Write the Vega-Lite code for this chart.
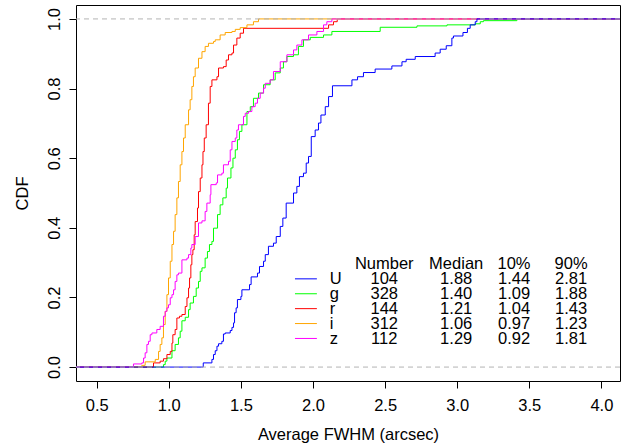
{
  "$schema": "https://vega.github.io/schema/vega-lite/v6.json",
  "autosize": "none",
  "width": 544,
  "height": 376,
  "padding": {"left": 76, "top": 5, "right": 6, "bottom": 67},
  "background": "white",
  "config": {
    "view": {"stroke": "black", "strokeWidth": 1},
    "font": "Liberation Sans",
    "text": {"fontSize": 16.5, "font": "Liberation Sans", "color": "black", "baseline": "alphabetic", "align": "center"},
    "axis": {
      "labelFont": "Liberation Sans",
      "titleFont": "Liberation Sans",
      "labelFontSize": 16.5,
      "titleFontSize": 16.5,
      "titleFontWeight": "normal",
      "labelColor": "black",
      "titleColor": "black",
      "tickColor": "black",
      "tickSize": 7,
      "domain": false,
      "grid": false,
      "labelFlush": false,
      "labelOverlap": false
    }
  },
  "datasets": {
    "curves": [
      {"band":"g","x":0.3565,"y":0},{"band":"g","x":0.963,"y":0.007},{"band":"g","x":0.975,"y":0.017},{"band":"g","x":0.987,"y":0.026},{"band":"g","x":1.022,"y":0.047},{"band":"g","x":1.044,"y":0.065},{"band":"g","x":1.067,"y":0.084},{"band":"g","x":1.079,"y":0.103},{"band":"g","x":1.091,"y":0.133},{"band":"g","x":1.114,"y":0.143},{"band":"g","x":1.137,"y":0.165},{"band":"g","x":1.148,"y":0.184},{"band":"g","x":1.171,"y":0.203},{"band":"g","x":1.19,"y":0.227},{"band":"g","x":1.206,"y":0.246},{"band":"g","x":1.218,"y":0.275},{"band":"g","x":1.23,"y":0.285},{"band":"g","x":1.252,"y":0.313},{"band":"g","x":1.268,"y":0.332},{"band":"g","x":1.282,"y":0.352},{"band":"g","x":1.299,"y":0.361},{"band":"g","x":1.31,"y":0.399},{"band":"g","x":1.338,"y":0.438},{"band":"g","x":1.356,"y":0.466},{"band":"g","x":1.375,"y":0.486},{"band":"g","x":1.398,"y":0.514},{"band":"g","x":1.407,"y":0.543},{"band":"g","x":1.431,"y":0.572},{"band":"g","x":1.445,"y":0.6},{"band":"g","x":1.461,"y":0.624},{"band":"g","x":1.476,"y":0.653},{"band":"g","x":1.49,"y":0.677},{"band":"g","x":1.507,"y":0.696},{"band":"g","x":1.542,"y":0.734},{"band":"g","x":1.565,"y":0.748},{"band":"g","x":1.587,"y":0.772},{"band":"g","x":1.622,"y":0.787},{"band":"g","x":1.657,"y":0.811},{"band":"g","x":1.703,"y":0.825},{"band":"g","x":1.738,"y":0.845},{"band":"g","x":1.773,"y":0.859},{"band":"g","x":1.795,"y":0.877},{"band":"g","x":1.819,"y":0.892},{"band":"g","x":1.865,"y":0.897},{"band":"g","x":1.899,"y":0.921},{"band":"g","x":1.934,"y":0.94},{"band":"g","x":1.981,"y":0.947},{"band":"g","x":2.073,"y":0.954},{"band":"g","x":2.131,"y":0.964},{"band":"g","x":2.466,"y":0.976},{"band":"g","x":2.721,"y":0.98},{"band":"g","x":2.929,"y":0.983},{"band":"g","x":3.125,"y":0.986},{"band":"g","x":3.16,"y":0.992},{"band":"g","x":3.182,"y":0.995},{"band":"g","x":3.414,"y":1.0},{"band":"g","x":4.129,"y":1.0},
      {"band":"r","x":0.3565,"y":0},{"band":"r","x":0.894,"y":0.012},{"band":"r","x":0.94,"y":0.017},{"band":"r","x":0.963,"y":0.024},{"band":"r","x":0.987,"y":0.036},{"band":"r","x":1.01,"y":0.045},{"band":"r","x":1.022,"y":0.069},{"band":"r","x":1.028,"y":0.093},{"band":"r","x":1.044,"y":0.108},{"band":"r","x":1.056,"y":0.141},{"band":"r","x":1.074,"y":0.146},{"band":"r","x":1.091,"y":0.151},{"band":"r","x":1.114,"y":0.174},{"band":"r","x":1.126,"y":0.199},{"band":"r","x":1.137,"y":0.227},{"band":"r","x":1.144,"y":0.256},{"band":"r","x":1.153,"y":0.294},{"band":"r","x":1.16,"y":0.323},{"band":"r","x":1.167,"y":0.337},{"band":"r","x":1.176,"y":0.38},{"band":"r","x":1.183,"y":0.418},{"band":"r","x":1.199,"y":0.457},{"band":"r","x":1.206,"y":0.504},{"band":"r","x":1.218,"y":0.543},{"band":"r","x":1.23,"y":0.581},{"band":"r","x":1.237,"y":0.619},{"band":"r","x":1.246,"y":0.658},{"band":"r","x":1.259,"y":0.696},{"band":"r","x":1.275,"y":0.758},{"band":"r","x":1.287,"y":0.806},{"band":"r","x":1.299,"y":0.825},{"band":"r","x":1.334,"y":0.834},{"band":"r","x":1.345,"y":0.859},{"band":"r","x":1.379,"y":0.863},{"band":"r","x":1.398,"y":0.882},{"band":"r","x":1.414,"y":0.897},{"band":"r","x":1.438,"y":0.902},{"band":"r","x":1.449,"y":0.925},{"band":"r","x":1.472,"y":0.945},{"band":"r","x":1.495,"y":0.959},{"band":"r","x":1.518,"y":0.973},{"band":"r","x":2.108,"y":0.983},{"band":"r","x":2.142,"y":0.992},{"band":"r","x":2.168,"y":1.0},{"band":"r","x":4.129,"y":1.0},
      {"band":"i","x":0.3565,"y":0},{"band":"i","x":0.813,"y":0.005},{"band":"i","x":0.836,"y":0.015},{"band":"i","x":0.906,"y":0.022},{"band":"i","x":0.929,"y":0.045},{"band":"i","x":0.94,"y":0.065},{"band":"i","x":0.952,"y":0.084},{"band":"i","x":0.963,"y":0.122},{"band":"i","x":0.975,"y":0.16},{"band":"i","x":0.987,"y":0.208},{"band":"i","x":0.998,"y":0.256},{"band":"i","x":1.01,"y":0.304},{"band":"i","x":1.022,"y":0.352},{"band":"i","x":1.033,"y":0.39},{"band":"i","x":1.044,"y":0.438},{"band":"i","x":1.056,"y":0.486},{"band":"i","x":1.067,"y":0.533},{"band":"i","x":1.079,"y":0.581},{"band":"i","x":1.091,"y":0.619},{"band":"i","x":1.102,"y":0.658},{"band":"i","x":1.114,"y":0.696},{"band":"i","x":1.137,"y":0.739},{"band":"i","x":1.148,"y":0.768},{"band":"i","x":1.16,"y":0.806},{"band":"i","x":1.171,"y":0.834},{"band":"i","x":1.183,"y":0.859},{"band":"i","x":1.206,"y":0.887},{"band":"i","x":1.23,"y":0.906},{"band":"i","x":1.252,"y":0.921},{"band":"i","x":1.275,"y":0.93},{"band":"i","x":1.31,"y":0.935},{"band":"i","x":1.322,"y":0.94},{"band":"i","x":1.356,"y":0.954},{"band":"i","x":1.391,"y":0.961},{"band":"i","x":1.438,"y":0.964},{"band":"i","x":1.461,"y":0.97},{"band":"i","x":1.495,"y":0.975},{"band":"i","x":1.542,"y":0.983},{"band":"i","x":1.587,"y":0.992},{"band":"i","x":1.622,"y":1.0},{"band":"i","x":4.129,"y":1.0},
      {"band":"z","x":0.3565,"y":0},{"band":"z","x":0.755,"y":0.009},{"band":"z","x":0.813,"y":0.012},{"band":"z","x":0.825,"y":0.026},{"band":"z","x":0.836,"y":0.041},{"band":"z","x":0.848,"y":0.065},{"band":"z","x":0.859,"y":0.074},{"band":"z","x":0.871,"y":0.093},{"band":"z","x":0.883,"y":0.098},{"band":"z","x":0.917,"y":0.108},{"band":"z","x":0.94,"y":0.117},{"band":"z","x":0.963,"y":0.146},{"band":"z","x":0.975,"y":0.16},{"band":"z","x":0.987,"y":0.17},{"band":"z","x":0.998,"y":0.179},{"band":"z","x":1.01,"y":0.199},{"band":"z","x":1.022,"y":0.208},{"band":"z","x":1.033,"y":0.222},{"band":"z","x":1.044,"y":0.246},{"band":"z","x":1.056,"y":0.265},{"band":"z","x":1.067,"y":0.27},{"band":"z","x":1.091,"y":0.308},{"band":"z","x":1.126,"y":0.313},{"band":"z","x":1.137,"y":0.323},{"band":"z","x":1.153,"y":0.342},{"band":"z","x":1.16,"y":0.352},{"band":"z","x":1.183,"y":0.375},{"band":"z","x":1.206,"y":0.414},{"band":"z","x":1.23,"y":0.42},{"band":"z","x":1.252,"y":0.447},{"band":"z","x":1.264,"y":0.471},{"band":"z","x":1.287,"y":0.495},{"band":"z","x":1.292,"y":0.524},{"band":"z","x":1.329,"y":0.529},{"band":"z","x":1.338,"y":0.552},{"band":"z","x":1.368,"y":0.557},{"band":"z","x":1.379,"y":0.581},{"band":"z","x":1.414,"y":0.591},{"band":"z","x":1.426,"y":0.624},{"band":"z","x":1.438,"y":0.648},{"band":"z","x":1.461,"y":0.658},{"band":"z","x":1.472,"y":0.681},{"band":"z","x":1.483,"y":0.696},{"band":"z","x":1.518,"y":0.72},{"band":"z","x":1.53,"y":0.729},{"band":"z","x":1.553,"y":0.734},{"band":"z","x":1.576,"y":0.748},{"band":"z","x":1.599,"y":0.758},{"band":"z","x":1.615,"y":0.772},{"band":"z","x":1.634,"y":0.787},{"band":"z","x":1.657,"y":0.801},{"band":"z","x":1.669,"y":0.815},{"band":"z","x":1.703,"y":0.825},{"band":"z","x":1.726,"y":0.849},{"band":"z","x":1.773,"y":0.877},{"band":"z","x":1.819,"y":0.897},{"band":"z","x":1.865,"y":0.911},{"band":"z","x":1.888,"y":0.925},{"band":"z","x":1.923,"y":0.94},{"band":"z","x":1.969,"y":0.954},{"band":"z","x":2.027,"y":0.964},{"band":"z","x":2.073,"y":0.983},{"band":"z","x":2.096,"y":0.992},{"band":"z","x":2.131,"y":1.0},{"band":"z","x":4.129,"y":1.0},
      {"band":"U","x":0.3565,"y":0},{"band":"U","x":1.239,"y":0.012},{"band":"U","x":1.299,"y":0.022},{"band":"U","x":1.31,"y":0.036},{"band":"U","x":1.322,"y":0.047},{"band":"U","x":1.334,"y":0.06},{"band":"U","x":1.345,"y":0.067},{"band":"U","x":1.368,"y":0.074},{"band":"U","x":1.379,"y":0.095},{"band":"U","x":1.391,"y":0.098},{"band":"U","x":1.426,"y":0.105},{"band":"U","x":1.438,"y":0.114},{"band":"U","x":1.449,"y":0.127},{"band":"U","x":1.456,"y":0.156},{"band":"U","x":1.467,"y":0.17},{"band":"U","x":1.476,"y":0.194},{"band":"U","x":1.5,"y":0.203},{"band":"U","x":1.507,"y":0.222},{"band":"U","x":1.56,"y":0.237},{"band":"U","x":1.571,"y":0.259},{"band":"U","x":1.615,"y":0.27},{"band":"U","x":1.629,"y":0.289},{"band":"U","x":1.657,"y":0.304},{"band":"U","x":1.669,"y":0.323},{"band":"U","x":1.691,"y":0.347},{"band":"U","x":1.726,"y":0.356},{"band":"U","x":1.745,"y":0.375},{"band":"U","x":1.773,"y":0.404},{"band":"U","x":1.791,"y":0.428},{"band":"U","x":1.814,"y":0.471},{"band":"U","x":1.865,"y":0.5},{"band":"U","x":1.888,"y":0.519},{"band":"U","x":1.906,"y":0.547},{"band":"U","x":1.934,"y":0.557},{"band":"U","x":1.953,"y":0.586},{"band":"U","x":1.969,"y":0.605},{"band":"U","x":1.988,"y":0.662},{"band":"U","x":2.015,"y":0.681},{"band":"U","x":2.038,"y":0.701},{"band":"U","x":2.055,"y":0.724},{"band":"U","x":2.085,"y":0.748},{"band":"U","x":2.108,"y":0.777},{"band":"U","x":2.135,"y":0.808},{"band":"U","x":2.27,"y":0.825},{"band":"U","x":2.309,"y":0.834},{"band":"U","x":2.35,"y":0.846},{"band":"U","x":2.431,"y":0.856},{"band":"U","x":2.547,"y":0.865},{"band":"U","x":2.617,"y":0.877},{"band":"U","x":2.646,"y":0.884},{"band":"U","x":2.709,"y":0.892},{"band":"U","x":2.847,"y":0.902},{"band":"U","x":2.882,"y":0.913},{"band":"U","x":2.924,"y":0.923},{"band":"U","x":2.963,"y":0.945},{"band":"U","x":2.974,"y":0.951},{"band":"U","x":3.04,"y":0.961},{"band":"U","x":3.071,"y":0.973},{"band":"U","x":3.09,"y":0.983},{"band":"U","x":3.125,"y":0.992},{"band":"U","x":3.137,"y":1.0},{"band":"U","x":4.129,"y":1.0}
    ],
    "table": [
      {"band":"U","n":104,"median":1.88,"p10":1.44,"p90":2.81},
      {"band":"g","n":328,"median":1.40,"p10":1.09,"p90":1.88},
      {"band":"r","n":144,"median":1.21,"p10":1.04,"p90":1.43},
      {"band":"i","n":312,"median":1.06,"p10":0.97,"p90":1.23},
      {"band":"z","n":112,"median":1.29,"p10":0.92,"p90":1.81}
    ],
    "header": [
      {"label":"Number"},{"label":"Median"},{"label":"10%"},{"label":"90%"}
    ]
  },
  "encoding": {
    "x": {
      "type": "quantitative",
      "scale": {"domain": [0.3565, 4.129], "nice": false, "zero": false},
      "axis": {
        "values": [0.5, 1, 1.5, 2, 2.5, 3, 3.5, 4],
        "format": ".1f",
        "title": "Average FWHM (arcsec)",
        "labelPadding": 9,
        "titlePadding": 13
      }
    },
    "y": {
      "type": "quantitative",
      "scale": {"domain": [-0.04, 1.04], "nice": false, "zero": false},
      "axis": {
        "values": [0, 0.2, 0.4, 0.6, 0.8, 1],
        "format": ".1f",
        "title": "CDF",
        "labelAngle": 270,
        "labelAlign": "center",
        "labelBaseline": "alphabetic",
        "labelPadding": 10,
        "titlePadding": 16
      }
    },
    "color": {
      "field": "band", "type": "nominal",
      "scale": {"domain": ["U", "g", "r", "i", "z"], "range": ["#0000FF", "#00FF00", "#FF0000", "#FFA500", "#FF00FF"]},
      "legend": null
    }
  },
  "layer": [
    {
      "data": {"name": "curves"},
      "mark": {"type": "line", "interpolate": "step-after", "strokeWidth": 1},
      "encoding": {"x": {"field": "x"}, "y": {"field": "y"}}
    },
    {
      "data": {"values": [{"level": 0}, {"level": 1}]},
      "mark": {"type": "rule", "color": "#B3B3B3", "strokeDash": [5, 4], "strokeWidth": 1},
      "encoding": {"y": {"field": "level"}, "color": {"value": "#B3B3B3"}}
    },
    {
      "data": {"name": "header"},
      "encoding": {"y": {"datum": 0.2807}, "text": {"field": "label"}, "color": {"value": "black"}},
      "layer": [
        {"transform": [{"filter": "datum.label == 'Number'"}], "mark": {"type": "text"}, "encoding": {"x": {"datum": 2.494}}},
        {"transform": [{"filter": "datum.label == 'Median'"}], "mark": {"type": "text"}, "encoding": {"x": {"datum": 2.993}}},
        {"transform": [{"filter": "datum.label == '10%'"}], "mark": {"type": "text"}, "encoding": {"x": {"datum": 3.394}}},
        {"transform": [{"filter": "datum.label == '90%'"}], "mark": {"type": "text"}, "encoding": {"x": {"datum": 3.79}}}
      ]
    },
    {
      "data": {"name": "table"},
      "transform": [{"filter": "datum.band == 'U'"}],
      "encoding": {"y": {"datum": 0.2376}},
      "layer": [
        {"mark": {"type": "rule", "strokeWidth": 1, "yOffset": -5.5}, "encoding": {"x": {"datum": 1.875}, "x2": {"datum": 2.027}}},
        {"mark": {"type": "text", "align": "left"}, "encoding": {"x": {"datum": 2.116}, "text": {"field": "band"}, "color": {"value": "black"}}},
        {"mark": {"type": "text"}, "encoding": {"x": {"datum": 2.494}, "text": {"field": "n", "type": "quantitative", "format": "d"}, "color": {"value": "black"}}},
        {"mark": {"type": "text"}, "encoding": {"x": {"datum": 2.993}, "text": {"field": "median", "type": "quantitative", "format": ".2f"}, "color": {"value": "black"}}},
        {"mark": {"type": "text"}, "encoding": {"x": {"datum": 3.394}, "text": {"field": "p10", "type": "quantitative", "format": ".2f"}, "color": {"value": "black"}}},
        {"mark": {"type": "text"}, "encoding": {"x": {"datum": 3.79}, "text": {"field": "p90", "type": "quantitative", "format": ".2f"}, "color": {"value": "black"}}}
      ]
    },
    {
      "data": {"name": "table"},
      "transform": [{"filter": "datum.band == 'g'"}],
      "encoding": {"y": {"datum": 0.1948}},
      "layer": [
        {"mark": {"type": "rule", "strokeWidth": 1, "yOffset": -5.5}, "encoding": {"x": {"datum": 1.875}, "x2": {"datum": 2.027}}},
        {"mark": {"type": "text", "align": "left"}, "encoding": {"x": {"datum": 2.116}, "text": {"field": "band"}, "color": {"value": "black"}}},
        {"mark": {"type": "text"}, "encoding": {"x": {"datum": 2.494}, "text": {"field": "n", "type": "quantitative", "format": "d"}, "color": {"value": "black"}}},
        {"mark": {"type": "text"}, "encoding": {"x": {"datum": 2.993}, "text": {"field": "median", "type": "quantitative", "format": ".2f"}, "color": {"value": "black"}}},
        {"mark": {"type": "text"}, "encoding": {"x": {"datum": 3.394}, "text": {"field": "p10", "type": "quantitative", "format": ".2f"}, "color": {"value": "black"}}},
        {"mark": {"type": "text"}, "encoding": {"x": {"datum": 3.79}, "text": {"field": "p90", "type": "quantitative", "format": ".2f"}, "color": {"value": "black"}}}
      ]
    },
    {
      "data": {"name": "table"},
      "transform": [{"filter": "datum.band == 'r'"}],
      "encoding": {"y": {"datum": 0.152}},
      "layer": [
        {"mark": {"type": "rule", "strokeWidth": 1, "yOffset": -5.5}, "encoding": {"x": {"datum": 1.875}, "x2": {"datum": 2.027}}},
        {"mark": {"type": "text", "align": "left"}, "encoding": {"x": {"datum": 2.116}, "text": {"field": "band"}, "color": {"value": "black"}}},
        {"mark": {"type": "text"}, "encoding": {"x": {"datum": 2.494}, "text": {"field": "n", "type": "quantitative", "format": "d"}, "color": {"value": "black"}}},
        {"mark": {"type": "text"}, "encoding": {"x": {"datum": 2.993}, "text": {"field": "median", "type": "quantitative", "format": ".2f"}, "color": {"value": "black"}}},
        {"mark": {"type": "text"}, "encoding": {"x": {"datum": 3.394}, "text": {"field": "p10", "type": "quantitative", "format": ".2f"}, "color": {"value": "black"}}},
        {"mark": {"type": "text"}, "encoding": {"x": {"datum": 3.79}, "text": {"field": "p90", "type": "quantitative", "format": ".2f"}, "color": {"value": "black"}}}
      ]
    },
    {
      "data": {"name": "table"},
      "transform": [{"filter": "datum.band == 'i'"}],
      "encoding": {"y": {"datum": 0.1092}},
      "layer": [
        {"mark": {"type": "rule", "strokeWidth": 1, "yOffset": -5.5}, "encoding": {"x": {"datum": 1.875}, "x2": {"datum": 2.027}}},
        {"mark": {"type": "text", "align": "left"}, "encoding": {"x": {"datum": 2.116}, "text": {"field": "band"}, "color": {"value": "black"}}},
        {"mark": {"type": "text"}, "encoding": {"x": {"datum": 2.494}, "text": {"field": "n", "type": "quantitative", "format": "d"}, "color": {"value": "black"}}},
        {"mark": {"type": "text"}, "encoding": {"x": {"datum": 2.993}, "text": {"field": "median", "type": "quantitative", "format": ".2f"}, "color": {"value": "black"}}},
        {"mark": {"type": "text"}, "encoding": {"x": {"datum": 3.394}, "text": {"field": "p10", "type": "quantitative", "format": ".2f"}, "color": {"value": "black"}}},
        {"mark": {"type": "text"}, "encoding": {"x": {"datum": 3.79}, "text": {"field": "p90", "type": "quantitative", "format": ".2f"}, "color": {"value": "black"}}}
      ]
    },
    {
      "data": {"name": "table"},
      "transform": [{"filter": "datum.band == 'z'"}],
      "encoding": {"y": {"datum": 0.0664}},
      "layer": [
        {"mark": {"type": "rule", "strokeWidth": 1, "yOffset": -5.5}, "encoding": {"x": {"datum": 1.875}, "x2": {"datum": 2.027}}},
        {"mark": {"type": "text", "align": "left"}, "encoding": {"x": {"datum": 2.116}, "text": {"field": "band"}, "color": {"value": "black"}}},
        {"mark": {"type": "text"}, "encoding": {"x": {"datum": 2.494}, "text": {"field": "n", "type": "quantitative", "format": "d"}, "color": {"value": "black"}}},
        {"mark": {"type": "text"}, "encoding": {"x": {"datum": 2.993}, "text": {"field": "median", "type": "quantitative", "format": ".2f"}, "color": {"value": "black"}}},
        {"mark": {"type": "text"}, "encoding": {"x": {"datum": 3.394}, "text": {"field": "p10", "type": "quantitative", "format": ".2f"}, "color": {"value": "black"}}},
        {"mark": {"type": "text"}, "encoding": {"x": {"datum": 3.79}, "text": {"field": "p90", "type": "quantitative", "format": ".2f"}, "color": {"value": "black"}}}
      ]
    }
  ]
}
